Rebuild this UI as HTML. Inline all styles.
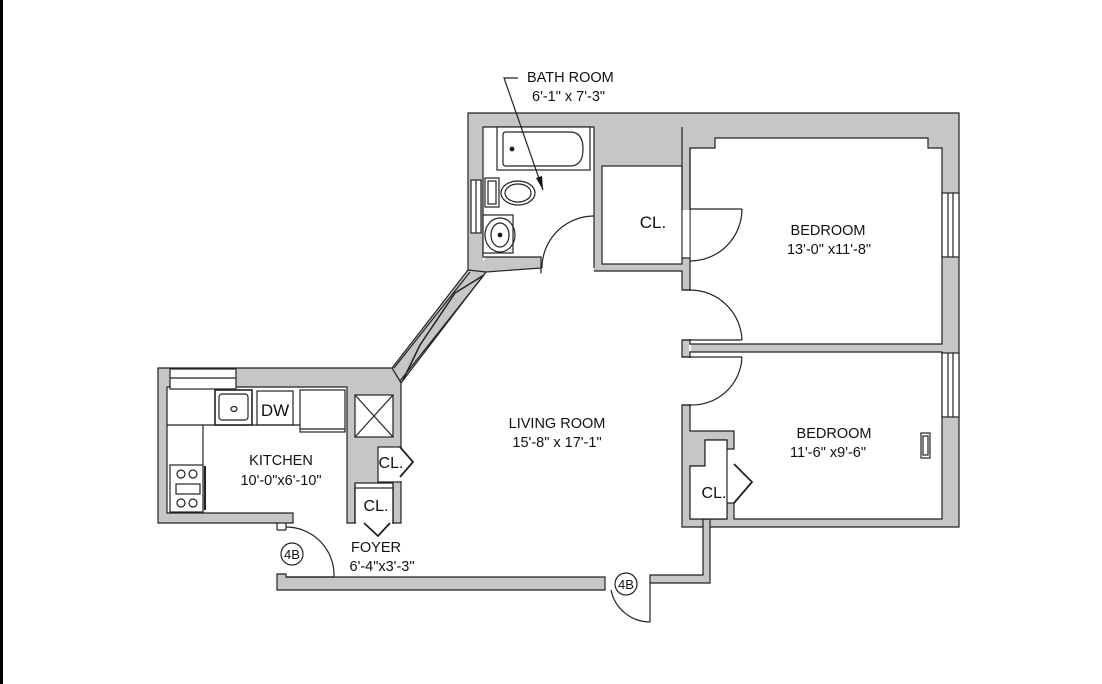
<!DOCTYPE html>
<html><head><meta charset="utf-8"><style>
html,body{margin:0;padding:0;background:#fff}
svg{display:block}
text{font-family:"Liberation Sans",sans-serif;fill:#111}
</style></head><body>
<svg width="1102" height="684" viewBox="0 0 1102 684" xmlns="http://www.w3.org/2000/svg">
<rect x="0" y="0" width="1102" height="684" fill="#fff"/>
<rect x="0" y="0" width="3" height="684" fill="#000"/>
<g fill="#c6c6c6" stroke="#222" stroke-width="1.2" stroke-linejoin="miter">
<polygon points="468,113 959,113 959,527 682,527 682,405 690,405 690,357 682,357 682,340 690,340 690,290 682,290 682,271 593,271 593,273 541,273 541,268 486,272 468,272"/>
<polygon points="468,270 486,272 401,383 392,368"/>
<polygon points="158,368 392,368 401,383 401,523 393,523 393,483 355,483 355,523 347,523 347,387 167,387 167,513 293,513 293,523 158,523"/>
<polygon points="277,574 286,574 286,577 605,577 605,590 277,590"/>
<polygon points="650,575 703,575 703,519 710,519 710,583 650,583"/>
</g>
<!-- bathroom interior -->
<polygon points="483,127 594,127 594,274 541,274 541,257 486,257 483,262" fill="#fff"/>
<polyline points="594,216 594,127 483,127 483,257 541,257 541,273" fill="none" stroke="#222" stroke-width="1.2"/>
<g fill="#fff" stroke="#222" stroke-width="1.2">
<rect x="602" y="166" width="80" height="98"/>
<polygon points="715,138 928,138 928,148 942,148 942,344 690,344 690,148 715,148"/>
<polygon points="690,352 942,352 942,519 734,519 734,503 727,503 727,519 690,519 690,466 705,466 705,440 727,440 727,449 734,449 734,431 690,431"/>
<polygon points="690,466 705,466 705,440 727,440 727,519 690,519"/>
<rect x="355" y="395" width="38" height="42"/>
<rect x="378" y="447" width="23" height="35"/>
<rect x="355" y="488" width="38" height="35"/>
</g>
<g fill="#fff">
<rect x="595" y="272" width="0" height="0"/>
<rect x="682.6" y="210" width="7" height="48"/>
<rect x="681" y="291" width="10" height="48"/>
<rect x="681" y="358" width="10" height="46"/>
<rect x="689" y="345" width="2" height="6"/>
<rect x="379" y="448" width="23" height="33"/>
<rect x="356" y="489" width="36" height="35"/>
</g>
<g fill="none" stroke="#222" stroke-width="1.2">
<line x1="682" y1="127" x2="682" y2="210"/>
<line x1="690" y1="148" x2="690" y2="210"/>
<line x1="682" y1="258" x2="690" y2="258"/>
<line x1="682" y1="290" x2="690" y2="290"/>
<line x1="682" y1="340" x2="690" y2="340"/>
<line x1="682" y1="357" x2="690" y2="357"/>
<line x1="682" y1="405" x2="690" y2="405"/>
<line x1="355" y1="483" x2="355" y2="523"/>
<line x1="393" y1="483" x2="393" y2="523"/>
<line x1="355" y1="395" x2="393" y2="437"/><line x1="393" y1="395" x2="355" y2="437"/>
<line x1="594" y1="216" x2="594" y2="268"/>
<path d="M594,216 A52,52 0 0 0 542,268"/>
<line x1="690" y1="209" x2="742" y2="209"/>
<path d="M742,209 A52,52 0 0 1 690,261"/>
<line x1="690" y1="340" x2="742" y2="340"/>
<path d="M690,290 A52,52 0 0 1 742,340"/>
<line x1="690" y1="357" x2="742" y2="357"/>
<path d="M742,357 A50,50 0 0 1 690,405"/>
<line x1="286" y1="577" x2="334" y2="577"/>
<path d="M286,527 A48,48 0 0 1 334,577"/>
<line x1="650" y1="583" x2="650" y2="622"/>
<path d="M650,622 A40,40 0 0 1 611,590"/>
<line x1="286" y1="523" x2="286" y2="530"/><line x1="277" y1="530" x2="286" y2="530"/><line x1="277" y1="523" x2="277" y2="530"/>
<polyline points="400,447 413,462 400,477" stroke-width="1.8"/>
<polyline points="364,523 378,536 390,523" stroke-width="1.8"/>
<polyline points="734,464 752,482 734,503" stroke-width="1.8"/>
<rect x="471" y="180" width="10" height="53" fill="#fff"/><line x1="476" y1="180" x2="476" y2="233"/>
<rect x="942" y="193" width="17" height="64" fill="#fff"/><line x1="948" y1="193" x2="948" y2="257"/><line x1="953" y1="193" x2="953" y2="257"/>
<rect x="942" y="353" width="17" height="64" fill="#fff"/><line x1="948" y1="353" x2="948" y2="417"/><line x1="953" y1="353" x2="953" y2="417"/>
<rect x="170" y="369" width="66" height="20" fill="#fff"/><line x1="170" y1="378" x2="236" y2="378"/>
<line x1="470" y1="272" x2="394" y2="368"/>
<line x1="484" y1="275" x2="400" y2="381"/>
<polyline points="484,275 455,293 420,345 403,380" stroke-width="1.5"/>
<rect x="497" y="127" width="93" height="43" fill="#fff"/>
<path d="M506,132 H570 Q583,132 583,149 Q583,166 570,166 H506 Q503,166 503,163 V135 Q503,132 506,132 Z"/>
<circle cx="512" cy="149" r="1.8" fill="#111"/>
<rect x="485" y="178" width="14" height="29" fill="#fff"/>
<rect x="488" y="181" width="8" height="23"/>
<ellipse cx="518" cy="193" rx="17" ry="12" fill="#fff"/>
<ellipse cx="518" cy="193" rx="13" ry="9"/>
<rect x="483" y="215" width="30" height="38" fill="#fff"/>
<ellipse cx="500" cy="235" rx="15" ry="17"/>
<ellipse cx="500" cy="235" rx="9" ry="12"/>
<circle cx="500" cy="235" r="1.8" fill="#111"/>
<polyline points="167,425 203,425 203,512"/>
<line x1="203" y1="425" x2="345" y2="425"/>
<rect x="215" y="390" width="37" height="35" fill="#fff" stroke-width="1.6"/>
<rect x="219" y="394" width="29" height="26" rx="3"/>
<ellipse cx="234" cy="409" rx="3" ry="2.5"/>
<rect x="257" y="391" width="36" height="34"/>
<rect x="300" y="390" width="45" height="42" fill="#fff"/>
<line x1="300" y1="429" x2="345" y2="429"/>
<rect x="170" y="465" width="33" height="47" fill="#fff"/>
<circle cx="181" cy="474" r="4"/><circle cx="193" cy="474" r="4"/>
<circle cx="181" cy="503" r="4"/><circle cx="193" cy="503" r="4"/>
<rect x="176" y="484" width="24" height="10"/>
<line x1="205" y1="466" x2="205" y2="510" stroke-width="2"/>
<rect x="921" y="433" width="9" height="25" fill="#fff"/>
<rect x="923" y="436" width="5" height="19"/>
<polyline points="518,78 504,78 543,190"/>
</g>
<polygon points="543,190 536,178 542,176" fill="#111"/>
<g fill="none" stroke="#222" stroke-width="1.2">
<circle cx="292" cy="554" r="11"/>
<circle cx="626" cy="584" r="11"/>
</g>
<g font-size="14.5">
<text x="527" y="82">BATH ROOM</text>
<text x="532" y="101">6'-1" x 7'-3"</text>
<text x="653" y="228" text-anchor="middle" font-size="17">CL.</text>
<text x="828" y="235" text-anchor="middle">BEDROOM</text>
<text x="829" y="254" text-anchor="middle">13'-0" x11'-8"</text>
<text x="557" y="428" text-anchor="middle">LIVING ROOM</text>
<text x="557" y="447" text-anchor="middle">15'-8" x 17'-1"</text>
<text x="834" y="438" text-anchor="middle">BEDROOM</text>
<text x="828" y="457" text-anchor="middle">11'-6" x9'-6"</text>
<text x="281" y="465" text-anchor="middle">KITCHEN</text>
<text x="281" y="485" text-anchor="middle">10'-0"x6'-10"</text>
<text x="275" y="416" text-anchor="middle" font-size="17">DW</text>
<text x="391" y="468" text-anchor="middle" font-size="16">CL.</text>
<text x="376" y="511" text-anchor="middle" font-size="16">CL.</text>
<text x="714" y="498" text-anchor="middle" font-size="16">CL.</text>
<text x="376" y="552" text-anchor="middle">FOYER</text>
<text x="382" y="571" text-anchor="middle">6'-4"x3'-3"</text>
<text x="292" y="559" text-anchor="middle" font-size="13">4B</text>
<text x="626" y="589" text-anchor="middle" font-size="13">4B</text>
</g>
</svg>
</body></html>
